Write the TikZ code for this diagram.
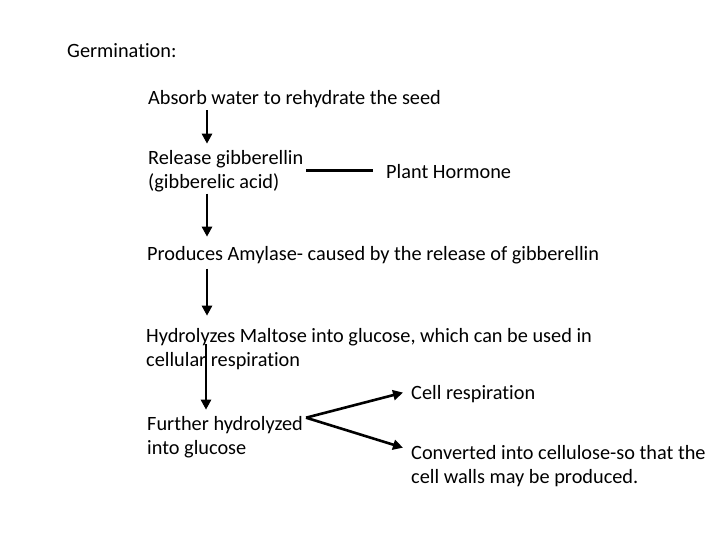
\documentclass[tikz,border=0pt]{standalone}
\usepackage{fontspec}
\setmainfont{Carlito}[Ligatures=NoCommon]
\usetikzlibrary{arrows.meta, calc}
\tikzset{
  txt/.style={anchor=base west, inner sep=0pt, align=left, font=\fontsize{20.3bp}{24bp}\selectfont},
  flow/.style={line width=2.6bp, -{Triangle[length=10bp, width=10bp]}},
}
\begin{document}
\begin{tikzpicture}[x=1bp, y=-1bp, line cap=butt]
  \useasboundingbox (0,0) rectangle (720,540);
  \coordinate (col) at (207,0);
  % texts (base = last line)
  \node [txt] (germ) at (67,58) {Germination:};
  \node [txt] (absorb) at (148,105) {Absorb water to rehydrate the seed};
  \node [txt] (release) at (148,189) {Release gibberellin\\(gibberelic acid)};
  \node [txt] (hormone) at (386,179) {Plant Hormone};
  \node [txt] (amylase) at (147,261) {Produces Amylase- caused by the release of gibberellin};
  \node [txt] (hydro) at (146,366) {Hydrolyzes Maltose into glucose, which can be used in\\cellular respiration};
  \node [txt] (further) at (147,454) {Further hydrolyzed\\into glucose};
  \node [txt] (cellresp) at (411,399) {Cell respiration};
  \node [txt] (convert) at (411,483) {Converted into cellulose-so that the\\cell walls may be produced.};
  % arrows
  \draw [flow] ($(absorb.south -| col)+(0,2)$) -- ($(release.north -| col)+(0,-7)$);
  \draw [flow] ($(release.south -| col)+(0,1)$) -- ($(amylase.north -| col)+(0,-10)$);
  \draw [flow] ($(amylase.south -| col)+(0,4)$) -- ($(hydro.north -| col)+(0,-12)$);
  \draw [flow] ($(hydro.south -| col)+(-1,-25)$) -- ($(further.north -| col)+(-1,-6)$);
  \draw [line width=2.6bp] ($(release.east)+(3,-1)$) -- ($(release.east -| hormone.west)+(-13,-1)$);
  \draw [flow] ($(further.east)+(3,-19)$) -- ($(cellresp.west)+(-8,-1)$);
  \draw [flow] ($(further.east)+(3,-19)$) -- ($(convert.north west)+(-8,3)$);
\end{tikzpicture}
\end{document}
